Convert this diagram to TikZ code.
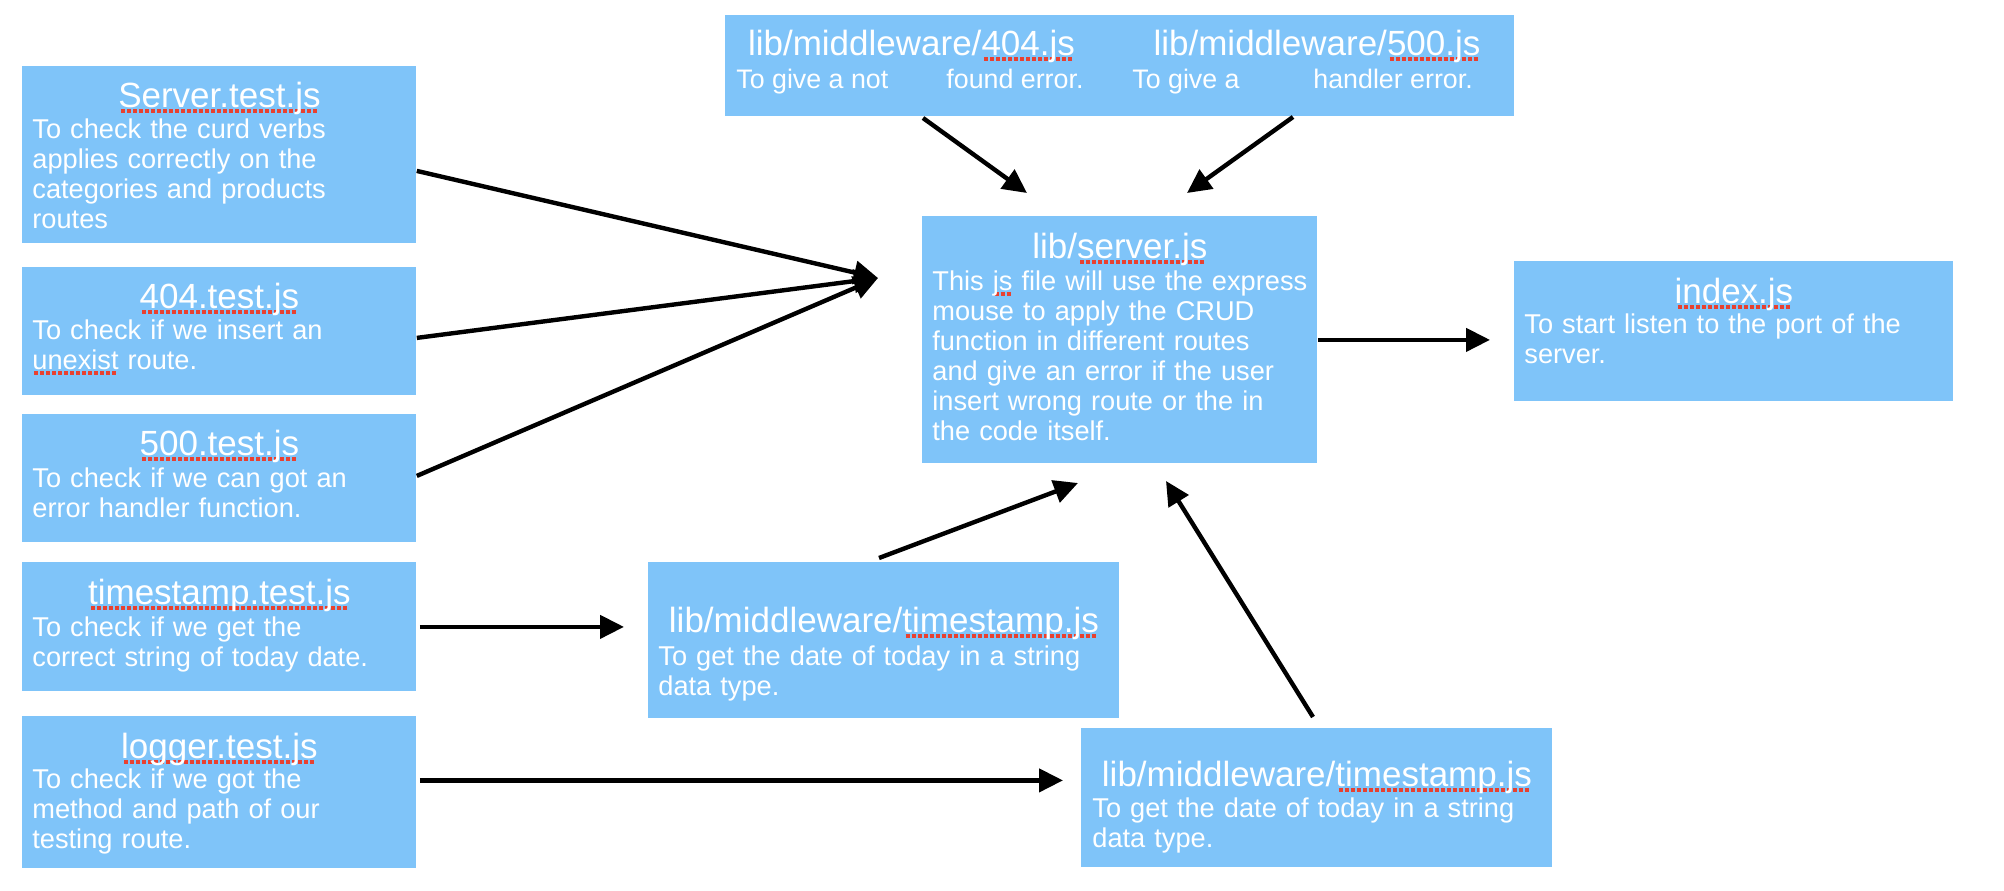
\documentclass[tikz,border=0pt]{standalone}
\usepackage{fontspec}
\setmainfont{Liberation Sans}
\usetikzlibrary{arrows.meta,calc}
\definecolor{boxblue}{RGB}{127,196,249}
\definecolor{sred}{RGB}{232,65,48}
\newbox\spellbox
\newcommand\spell[1]{\leavevmode\setbox\spellbox\hbox{#1}\rlap{\color{sred}\cleaders\hbox to 3pt{\hss\rule[-2.8pt]{2pt}{1.9pt}\hss}\hskip\wd\spellbox}\box\spellbox}
\begin{document}
\begin{tikzpicture}[x=0.5pt,y=-0.5pt,
  box/.style={rectangle, fill=boxblue, draw=none, inner sep=0pt, anchor=north west},
  ttl/.style={anchor=base, inner sep=0pt, text=white, font=\fontsize{17.5}{21}\selectfont},
  body/.style={anchor=base west, inner sep=0pt, text=white, font=\fontsize{13.6}{15}\selectfont, text width=300pt, align=left},
  sub/.style={anchor=base west, inner sep=0pt, text=white, font=\fontsize{13.4}{15}\selectfont},
  arr/.style={line width=2.2pt, -{Triangle[length=12pt,width=11.5pt]}}]
\useasboundingbox (0,0) rectangle (2004,890);

% boxes
\node[box, minimum width=197pt, minimum height=88.5pt] (srvtest) at (22,66) {};
\node[box, minimum width=197pt, minimum height=64pt] (t404) at (22,267) {};
\node[box, minimum width=197pt, minimum height=64pt] (t500) at (22,414) {};
\node[box, minimum width=197pt, minimum height=64.5pt] (ttime) at (22,562) {};
\node[box, minimum width=197pt, minimum height=76pt] (tlog) at (22,716) {};
\node[box, minimum width=394.5pt, minimum height=50.5pt] (top) at (725,15) {};
\node[box, minimum width=197.5pt, minimum height=123.5pt] (srv) at (922,216) {};
\node[box, minimum width=219.5pt, minimum height=70pt] (idx) at (1514,261) {};
\node[box, minimum width=235.5pt, minimum height=78pt] (mts) at (648,562) {};
\node[box, minimum width=235.5pt, minimum height=69.5pt] (bts) at (1081,728) {};

% texts
\node[ttl] (srvtestT) at ($(srvtest.north)+(0,41)$) {\spell{Server.test.js}};
\node[body] (srvtestB) at ($(srvtest.north west)+(10,72)$) {To check the curd verbs\\applies correctly on the\\categories and products\\routes};

\node[ttl] (t404T) at ($(t404.north)+(0,41)$) {\spell{404.test.js}};
\node[body] (t404B) at ($(t404.north west)+(10,72)$) {To check if we insert an\\\spell{unexist} route.};

\node[ttl] (t500T) at ($(t500.north)+(0,41)$) {\spell{500.test.js}};
\node[body] (t500B) at ($(t500.north west)+(10,73)$) {To check if we can got an\\error handler function.};

\node[ttl] (ttimeT) at ($(ttime.north)+(0,42)$) {\spell{timestamp.test.js}};
\node[body] (ttimeB) at ($(ttime.north west)+(10,74)$) {To check if we get the\\correct string of today date.};

\node[ttl] (tlogT) at ($(tlog.north)+(0,42)$) {\spell{logger.test.js}};
\node[body] (tlogB) at ($(tlog.north west)+(10,72)$) {To check if we got the\\method and path of our\\testing route.};

\node[ttl] (top1T) at ($(top.north west)+(186.5,40)$) {lib/middleware/\spell{404.js}};
\node[ttl] (top2T) at ($(top.north west)+(592,40)$) {lib/middleware/\spell{500.js}};
\node[sub] (top1a) at ($(top.north west)+(11,73)$) {To give a not};
\node[sub] (top1b) at ($(top.north west)+(221,73)$) {found error.};
\node[sub] (top2a) at ($(top.north west)+(407,73)$) {To give a};
\node[sub] (top2b) at ($(top.north west)+(588,73)$) {handler error.};

\node[ttl] (srvT) at ($(srv.north)+(0,42)$) {lib/\spell{server.js}};
\node[body] (srvB) at ($(srv.north west)+(10,74)$) {This \spell{js} file will use the express\\mouse to apply the CRUD\\function in different routes\\and give an error if the user\\insert wrong route or the in\\the code itself.};

\node[ttl] (idxT) at ($(idx.north)+(0,42)$) {\spell{index.js}};
\node[body] (idxB) at ($(idx.north west)+(10,72)$) {To start listen to the port of the\\server.};

\node[ttl] (mtsT) at ($(mts.north)+(0,70)$) {lib/middleware/\spell{timestamp.js}};
\node[body] (mtsB) at ($(mts.north west)+(10,103)$) {To get the date of today in a string\\data type.};

\node[ttl] (btsT) at ($(bts.north)+(0,58)$) {lib/middleware/\spell{timestamp.js}};
\node[body] (btsB) at ($(bts.north west)+(11,89)$) {To get the date of today in a string\\data type.};

% connector free ends
\coordinate (c1) at (878,278);
\coordinate (a1s) at (923,118);
\coordinate (a1e) at (1027,193);
\coordinate (a2s) at (1293,117);
\coordinate (a2e) at (1187,193);
\coordinate (a3s) at (879,558);
\coordinate (a3e) at (1078,483);
\coordinate (a4s) at (1313,717);
\coordinate (a4e) at (1166,481);

% connectors
\draw[arr] ([yshift=-8pt]srvtest.east) -- (c1);
\draw[arr] ([yshift=-3.25pt]t404.east) -- (c1);
\draw[arr] ([yshift=1.25pt]t500.east) -- (c1);
\draw[arr, shorten <=1.5pt, shorten >=12pt] (ttime.east) -- (ttime.east -| mts.west);
\draw[arr, shorten <=1.5pt, shorten >=9pt] ([yshift=6pt]tlog.east) -- ([yshift=6pt]tlog.east -| bts.west);
\draw[arr, shorten >=12pt] (srv.east) -- (srv.east -| idx.west);
\draw[arr] (a1s) -- (a1e);
\draw[arr] (a2s) -- (a2e);
\draw[arr] (a3s) -- (a3e);
\draw[arr] (a4s) -- (a4e);
\end{tikzpicture}
\end{document}
